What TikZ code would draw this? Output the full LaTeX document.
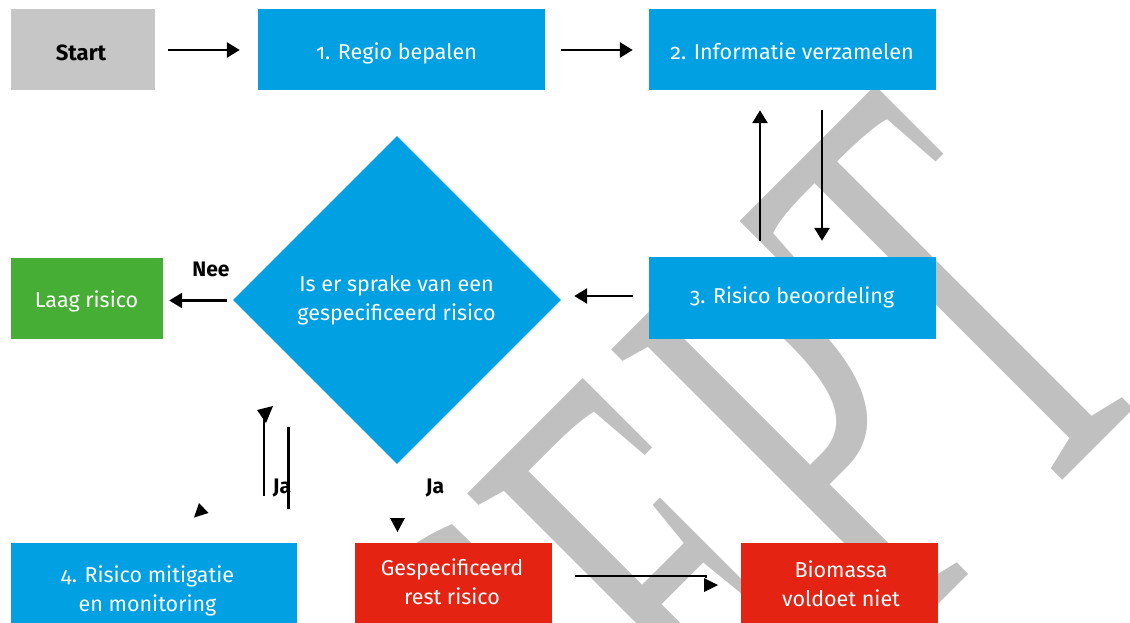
\documentclass[tikz,border=0pt]{standalone}
\usepackage{fontspec}
\setmainfont{Fira Sans}[Numbers=OldStyle]
\newfontfamily\wmfont{Liberation Serif}
\usetikzlibrary{arrows.meta,shapes.geometric}
\definecolor{rblue}{HTML}{00A0E2}
\definecolor{rred}{HTML}{E42313}
\definecolor{rgreen}{HTML}{47AE35}
\definecolor{rgrey}{HTML}{C6C6C6}
\definecolor{wmgrey}{HTML}{C0C0C0}
\tikzset{
  box/.style={rectangle, inner sep=0pt},
  txt/.style={inner sep=0pt, align=center, text=white,
    font=\fontsize{21.5}{29}\selectfont},
  arr/.style={line width=2.6pt, -{Triangle[length=13pt,width=15pt]}},
  plain/.style={line width=2.6pt},
  lbl/.style={font=\bfseries\fontsize{21}{24}\selectfont, text=black, inner sep=0pt, anchor=base},
}
\begin{document}
\begin{tikzpicture}[x=1pt,y=1pt]
\useasboundingbox (0,0) rectangle (1130,-623);
\clip (0,0) rectangle (1130,-623);
% watermark
\node[rotate=45, xscale=0.53, anchor=base east, text=wmgrey, inner sep=0pt,
  font=\wmfont\fontsize{628}{628}\selectfont] (wm) at (1170,-373) {CONCEPT};
% boxes
\node[box, fill=rgrey, minimum width=144pt, minimum height=81pt] (start) at (83,-49.5) {};
\node[box, fill=rblue, minimum width=287pt, minimum height=81pt] (b1) at (401.5,-49.5) {};
\node[box, fill=rblue, minimum width=287pt, minimum height=81pt] (b2) at (792.5,-49.5) {};
\node[box, fill=rblue, minimum width=287pt, minimum height=82pt] (b3) at (792.5,-298) {};
\node[diamond, aspect=1, fill=rblue, inner sep=0pt, minimum width=328pt, minimum height=328pt] (dia) at (397,-300) {};
\node[box, fill=rgreen, minimum width=152pt, minimum height=81pt] (laag) at (87,-298.5) {};
\node[box, fill=rblue, minimum width=286pt, minimum height=84pt] (b4) at (154,-585) {};
\node[box, fill=rred, minimum width=197pt, minimum height=84pt] (rest) at (453.5,-585) {};
\node[box, fill=rred, minimum width=197pt, minimum height=84pt] (bio) at (839.5,-585) {};
% texts
\node[lbl, font=\bfseries\fontsize{22}{24}\selectfont] (startt) at (81,-60.5) {Start};
\node[txt, anchor=base] (b1t) at (396.5,-60) {1. Regio bepalen};
\node[txt, anchor=base] (b2t) at (792,-60) {2. Informatie verzamelen};
\node[txt, anchor=base] (b3t) at (792,-303.5) {3. Risico beoordeling};
\node[txt, anchor=base] (laagt) at (86.6,-307) {Laag risico};
\node[txt] (diat) at (396.5,-300.5) {Is er sprake van een\\gespecificeerd risico};
\node[txt] (b4t) at (147.5,-590.7) {4. Risico mitigatie\\en monitoring};
\node[txt] (restt) at (452,-582) {Gespecificeerd\\rest risico};
\node[txt] (biot) at (841,-583.3) {Biomassa\\voldoet niet};
% labels
\node[lbl] (nee) at (211,-276) {Nee};
\node[lbl] (ja1) at (282,-493) {Ja};
\node[lbl] (ja2) at (435,-493) {Ja};
% connectors
\draw[arr] ([xshift=13pt,yshift=-0.5pt]start.east) -- ([xshift=-18pt,yshift=-0.5pt]b1.west);
\draw[arr] ([xshift=16pt,yshift=-0.5pt]b1.east) -- ([xshift=-16pt,yshift=-0.5pt]b2.west);
\draw[arr] ([xshift=-32.5pt,yshift=16pt]b3.north) -- ([xshift=-32.5pt,yshift=-20pt]b2.south);
\draw[arr] ([xshift=29.5pt,yshift=-20pt]b2.south) -- ([xshift=29.5pt,yshift=16pt]b3.north);
\draw[arr] ([xshift=-16pt,yshift=2pt]b3.west) -- ([xshift=13pt,yshift=4pt]dia.east);
\draw[arr] ([xshift=-6pt,yshift=-0.5pt]dia.west) -- ([xshift=6pt,yshift=-2pt]laag.east);
% broken connector fragments
\coordinate (u1) at (264,-496);
\coordinate (u2) at (264,-418);
\draw[plain] (u1) -- (u2);
\fill (257,-410) -- (273,-406) -- (266,-423) -- cycle;
\coordinate (d1) at (288.5,-427);
\coordinate (d2) at (288.5,-509);
\draw[plain] (d1) -- (d2);
\fill (194,-517.5) -- (208.5,-513) -- (199,-503) -- cycle;
\fill (390,-518) -- (405,-518) -- (397.5,-532) -- cycle;
\coordinate (h1) at (575,-576);
\coordinate (h2) at (706,-576);
\draw[plain] (h1) -- (h2) -- ++(0,-2);
\fill (704,-578) -- (704,-592) -- (718,-585) -- cycle;
\end{tikzpicture}
\end{document}
